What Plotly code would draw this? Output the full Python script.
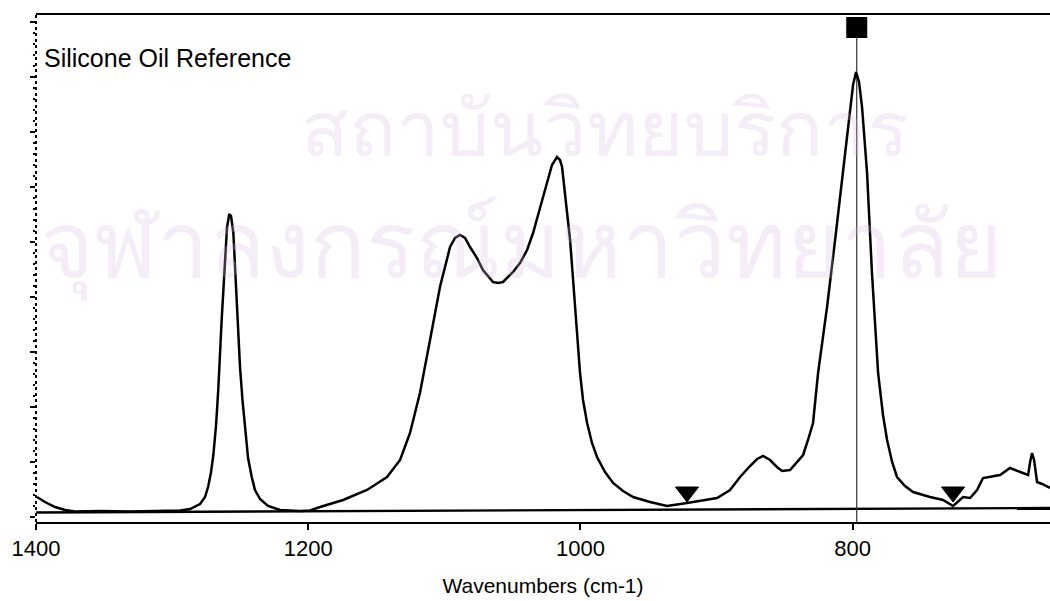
import plotly.graph_objects as go

# ---- data ----
wavenumber = [1399.3, 1393.4, 1386.0, 1378.7, 1371.3, 1353.0, 1330.9, 1308.9, 1294.2, 1286.8,
              1279.5, 1275.8, 1273.4, 1271.4, 1269.7, 1267.7, 1266.1, 1263.6, 1262.2, 1261.1,
              1259.7, 1258.0, 1256.7, 1255.0, 1253.8, 1252.5, 1251.2, 1250.1, 1248.3, 1246.4,
              1244.2, 1241.5, 1239.1, 1235.4, 1229.5, 1220.7, 1209.7, 1206.0, 1198.7, 1191.3,
              1174.4, 1156.8, 1142.1, 1132.5, 1125.2, 1117.9, 1110.5, 1103.2, 1095.8, 1092.1,
              1088.5, 1084.8, 1081.1, 1076.0, 1071.6, 1064.2, 1060.5, 1056.9, 1049.5, 1044.4,
              1039.2, 1034.8, 1029.7, 1024.5, 1020.9, 1017.2, 1015.0, 1013.5, 1010.6, 1007.6,
              1003.9, 1000.3, 998.1, 995.1, 991.5, 987.8, 981.9, 976.0, 968.7, 961.3,
              948.9, 936.4, 921.7, 912.1, 899.6, 890.1, 882.7, 875.4, 870.2, 865.8,
              860.7, 855.6, 851.9, 846.0, 840.9, 836.4, 832.8, 829.1, 825.4, 818.8,
              812.9, 807.1, 801.9, 799.7, 797.5, 795.3, 793.1, 789.4, 785.8, 781.3,
              777.7, 774.7, 771.0, 767.4, 761.5, 755.6, 743.1, 733.6, 726.2, 722.5,
              718.9, 713.7, 708.6, 704.2, 699.0, 691.7, 684.4, 680.7, 677.0, 673.3,
              671.1, 669.6, 668.2, 666.7, 666.0, 664.5, 660.8, 657.9, 655.0]
absorbance = [0.028, 0.018, 0.008, 0.002, -0.001, 0.000, -0.001, 0.000, 0.001, 0.004,
              0.014, 0.028, 0.050, 0.078, 0.112, 0.172, 0.242, 0.382, 0.452, 0.522,
              0.566, 0.594, 0.590, 0.556, 0.492, 0.422, 0.352, 0.288, 0.222, 0.162,
              0.106, 0.068, 0.042, 0.024, 0.010, 0.002, 0.000, 0.000, 0.001, 0.008,
              0.022, 0.042, 0.068, 0.102, 0.156, 0.236, 0.342, 0.448, 0.528, 0.546,
              0.552, 0.546, 0.528, 0.506, 0.482, 0.458, 0.456, 0.458, 0.478, 0.496,
              0.522, 0.556, 0.606, 0.656, 0.692, 0.708, 0.702, 0.688, 0.622, 0.542,
              0.408, 0.276, 0.222, 0.176, 0.136, 0.108, 0.078, 0.056, 0.040, 0.028,
              0.018, 0.010, 0.016, 0.020, 0.026, 0.042, 0.068, 0.090, 0.104, 0.110,
              0.102, 0.088, 0.080, 0.082, 0.098, 0.112, 0.142, 0.176, 0.276, 0.408,
              0.542, 0.676, 0.808, 0.852, 0.878, 0.858, 0.808, 0.676, 0.476, 0.276,
              0.192, 0.142, 0.098, 0.068, 0.050, 0.038, 0.028, 0.022, 0.010, 0.020,
              0.028, 0.026, 0.042, 0.066, 0.068, 0.072, 0.086, 0.082, 0.078, 0.074,
              0.072, 0.098, 0.116, 0.102, 0.088, 0.058, 0.054, 0.050, 0.046]

baseline_wn = [1400, 655]
baseline_abs = [-0.003, 0.006]

valley_wn = [921.7, 726.2]
valley_abs = [0.038, 0.038]

cursor_wn = 797.0
cursor_abs = [-0.022, 0.967]

x_ticks = [1400, 1200, 1000, 800]
x_range = [1400, 655]
y_range = [-0.022, 0.992]

title_text = "Silicone Oil Reference"
x_title = "Wavenumbers (cm-1)"
watermark_1 = "สถาบันวิทยบริการ"
watermark_2 = "จุฬาลงกรณ์มหาวิทยาลัย"

FONT = "Liberation Sans, Arial, sans-serif"
WM_COLOR = "rgba(215,185,222,0.27)"

fig = go.Figure()

# baseline
fig.add_trace(go.Scatter(x=baseline_wn, y=baseline_abs, mode="lines",
                         line=dict(color="black", width=2.4), hoverinfo="skip",
                         showlegend=False))
# cursor line
fig.add_trace(go.Scatter(x=[cursor_wn, cursor_wn], y=cursor_abs, mode="lines",
                         line=dict(color="#333333", width=1.2), showlegend=False,
                         cliponaxis=False))
# spectrum
fig.add_trace(go.Scatter(x=wavenumber, y=absorbance, mode="lines",
                         line=dict(color="black", width=2.5), showlegend=False))
# valley markers
fig.add_trace(go.Scatter(x=valley_wn, y=valley_abs, mode="markers",
                         marker=dict(symbol="triangle-down", size=20, color="black",
                                     line=dict(color="black", width=1)),
                         showlegend=False))
# cursor square
fig.add_trace(go.Scatter(x=[cursor_wn], y=[cursor_abs[1]], mode="markers",
                         marker=dict(symbol="square", size=21, color="black"),
                         showlegend=False, cliponaxis=False))

# watermark text
fig.add_annotation(text=watermark_1, xref="paper", yref="paper", x=0.561, y=0.776,
                   showarrow=False, font=dict(size=78, color=WM_COLOR),
                   xanchor="center", yanchor="middle")
fig.add_annotation(text=watermark_2, xref="paper", yref="paper", x=0.479, y=0.540,
                   showarrow=False, font=dict(size=92, color=WM_COLOR),
                   xanchor="center", yanchor="middle")

# chart label
fig.add_annotation(text=title_text, xref="paper", yref="paper", x=0.006, y=0.915,
                   xanchor="left", yanchor="middle", showarrow=False,
                   font=dict(family=FONT, size=25, color="black"))

# dotted left axis
fig.add_shape(type="line", xref="paper", yref="paper", x0=0, x1=0, y0=0, y1=1,
              line=dict(color="black", width=2, dash="dot"))

fig.update_xaxes(range=x_range, tickvals=x_ticks, ticktext=[str(v) for v in x_ticks],
                 showgrid=False, zeroline=False, showline=True, linecolor="black",
                 linewidth=2, mirror=True, ticks="outside", ticklen=6, tickwidth=2,
                 tickcolor="black", tickfont=dict(family=FONT, size=22, color="black"),
                 title=dict(text=x_title, font=dict(family=FONT, size=21, color="black"),
                            standoff=18))
fig.update_yaxes(range=y_range, showgrid=False, zeroline=False, showline=False,
                 showticklabels=False, ticks="outside", ticklen=5, tickwidth=2,
                 tickcolor="black", tick0=-0.012, dtick=0.11,
                 minor=dict(ticks="outside", ticklen=2, tickwidth=2, dtick=0.022,
                            tick0=-0.012, tickcolor="black"))

fig.update_layout(width=1050, height=601, margin=dict(l=36, r=0, t=15, b=79),
                  plot_bgcolor="white", paper_bgcolor="white",
                  font=dict(family=FONT, color="black"))

fig.write_html("out.html", config={"displayModeBar": False},
               post_script="document.body.style.margin='0';document.body.style.overflow='hidden';")
